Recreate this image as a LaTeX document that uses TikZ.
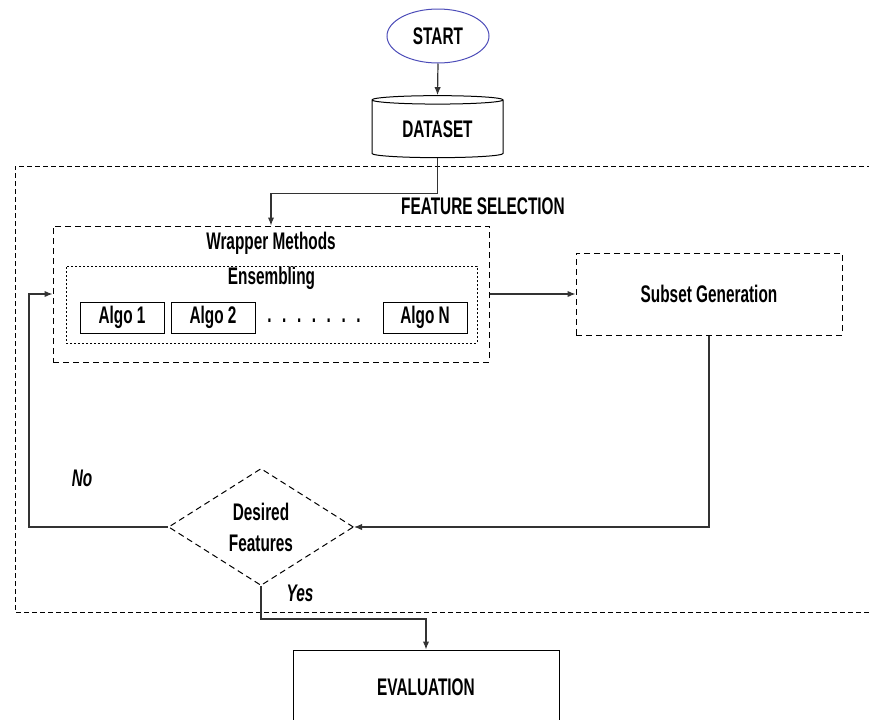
\documentclass[tikz,border=0pt]{standalone}
\usepackage{fontspec}
\setmainfont{Liberation Sans}[FakeStretch=0.64]
\usetikzlibrary{shapes.geometric,arrows.meta,positioning}

\begin{document}
\begin{tikzpicture}[x=0.5pt,y=-0.5pt,font=\bfseries\fontsize{12}{14}\selectfont,
  box/.style={draw,rectangle,inner sep=0pt,line width=0.5pt},
  dbox/.style={box,dashed,dash pattern=on 3pt off 2pt},
  algo/.style={box,minimum width=42pt,minimum height=15.5pt},
  link/.style={draw=black!80,line width=0.6pt},
  arr/.style={link,-{Latex[length=4pt,width=3.2pt]}}]
\useasboundingbox (0,0) rectangle (869,719);

% outer frame
\draw[dash pattern=on 2.5pt off 1.5pt,line width=0.4pt] (880,166) -- (15,166) -- (15,612) -- (880,612);
\node (fs) at (483,206) {FEATURE SELECTION};

\node[ellipse,draw=blue!60!black!70,line width=0.5pt,minimum width=51pt,minimum height=27pt,inner sep=0pt] (start) at (438,36) {START};
\node[cylinder,shape border rotate=90,aspect=0.12,draw,line width=0.5pt,minimum width=65.5pt,minimum height=31pt,inner sep=0pt] (data) at (437.5,129) {\raisebox{-4pt}{DATASET}};

\node[dbox,minimum width=218pt,minimum height=68pt] (wrap) at (271,294) {};
\node (wlab) at (271,243) {Wrapper Methods};
\node[box,dash pattern=on 1.2pt off 0.8pt,line width=0.4pt,minimum width=205.5pt,minimum height=38.5pt] (ens) at (271.5,304.5) {};
\node (elab) at (271.5,278) {Ensembling};
\node[algo] (a1) at (122,317.5) {Algo 1};
\node[algo] (a2) at (213,317.5) {Algo 2};
\node[algo] (an) at (425,317.5) {Algo N};
\node (dots) at (314,321) {.\hspace{5.3pt}.\hspace{5.3pt}.\hspace{5.3pt}.\hspace{5.3pt}.\hspace{5.3pt}.\hspace{5.3pt}.};

\node[dbox,minimum width=133pt,minimum height=41pt] (sub) at (709,294) {Subset Generation};

\node[diamond,draw,dashed,dash pattern=on 3pt off 2pt,line width=0.5pt,aspect=1.6,inner sep=0pt,
  minimum width=92.5pt,minimum height=58.5pt,align=center] (dec) at (261,527) {Desired\\[1.5pt]Features};
\node[font=\bfseries\itshape\fontsize{12}{14}\selectfont] (no) at (82,478) {No};
\node[font=\bfseries\itshape\fontsize{12}{14}\selectfont] (yes) at (300,593) {Yes};

\node[box,minimum width=133pt,minimum height=37pt] (eval) at (426,687) {EVALUATION};

% connectors
\draw[arr] (start.south) -- (data.north);
\draw[arr] (data.south) -- ++(0,35) -| (wrap.north);
\draw[arr] (wrap.east) -- (sub.west);
\draw[arr] (sub.south) |- (dec.east);
\draw[arr] (dec.west) -- ++(-139,0) |- (wrap.west);
\draw[arr] (dec.south) -- ++(0,33) -| (eval.north);
\end{tikzpicture}
\end{document}
